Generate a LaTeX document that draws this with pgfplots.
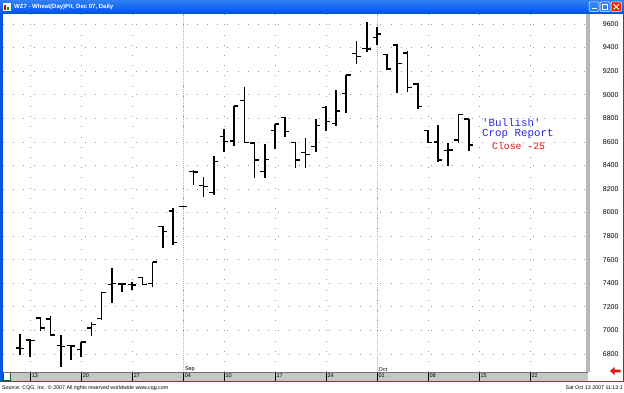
\documentclass[border=0pt]{standalone}
\usepackage{pgfplots}
\pgfplotsset{compat=1.18}
\usepackage{pgfplotstable}
\usepackage{fontspec}
\setmainfont{Liberation Sans}
\newfontfamily\monofont{Liberation Mono}

\definecolor{xpblue}{RGB}{0,84,227}
\definecolor{xpblueL}{RGB}{48,128,246}
\definecolor{annblue}{RGB}{40,40,225}
\definecolor{annred}{RGB}{230,20,20}
\definecolor{bandgray}{RGB}{198,198,198}

\pgfdeclareplotmark{openL}{\pgfpathmoveto{\pgfqpoint{-4.3pt}{0pt}}\pgfpathlineto{\pgfqpoint{0pt}{0pt}}\pgfusepathqstroke}
\pgfdeclareplotmark{closeR}{\pgfpathmoveto{\pgfqpoint{0pt}{0pt}}\pgfpathlineto{\pgfqpoint{4.3pt}{0pt}}\pgfusepathqstroke}

% i = trading day (0 = Aug 10 2007), open high low close
\pgfplotstableread{
i o h l c
0 6850 6970 6792 6845
1 6920 6927 6777 6915
2 7105 7111 6998 7020
3 7097 7122 6953 6960
4 6870 6961 6692 6865
5 6870 6876 6749 6868
6 6840 6904 6772 6900
7 7020 7074 6953 7050
8 7100 7329 7088 7320
9 7390 7527 7230 7400
10 7395 7400 7329 7395
11 7390 7413 7343 7385
12 7450 7456 7385 7390
13 7400 7583 7371 7580
14 7880 7889 7697 7838
15 8013 8036 7725 7748
16 8050 8055 8045 8050
17 8350 8361 8234 8345
18 8231 8299 8135 8220
19 8172 8480 8149 8432
20 8644 8707 8511 8602
21 8607 8904 8567 8904
22 8949 9068 8596 8596
23 8592 8601 8296 8446
24 8347 8582 8291 8452
25 8695 8752 8537 8752
26 8808 8811 8644 8686
27 8596 8601 8381 8446
28 8511 8630 8381 8494
29 8559 8792 8511 8737
30 8890 8904 8692 8771
31 8757 9040 8735 8862
32 9012 9167 8842 9167
33 9351 9458 9258 9323
34 9394 9614 9360 9388
35 9487 9571 9422 9515
36 9343 9343 9210 9218
37 9420 9430 9012 9267
38 9354 9368 9026 9060
39 9090 9097 8876 8898
40 8695 8701 8588 8593
41 8600 8743 8432 8445
42 8525 8588 8395 8530
43 8616 8834 8593 8834
44 8792 8792 8522 8573
}\ohlc

\begin{document}
\begin{tikzpicture}[x=1pt,y=1pt]
% page background
\fill[white] (0,0) rectangle (624,392);
% title bar
\shade[top color=xpblueL, bottom color=xpblue] (0,378.5) rectangle (624,392);
\node[anchor=west, text=white, inner sep=0, font=\bfseries\fontsize{6}{7}\selectfont] at (14,385) {WZ7 - Wheat(Day)Pit, Dec 07, Daily};
\fill[white] (3,381) rectangle (11,389);
\fill[red!85!black] (4,382) rectangle (6,387);
\fill[green!60!black] (7,382) rectangle (9,385);
\foreach \bx in {589,600}{
  \fill[xpblueL, draw=white, line width=0.5pt, rounded corners=1pt] (\bx,380.5) rectangle (\bx+10,390);
}
\fill[white] (591.5,382.5) rectangle (596.5,383.5);
\draw[white, line width=0.6pt] (602.5,382.5) rectangle (607.5,387.5);
\fill[red!75!orange, draw=white, line width=0.5pt, rounded corners=1pt] (611,380.5) rectangle (621.5,390);
\draw[white, line width=1pt] (613.5,382.5) -- (619,388) (613.5,388) -- (619,382.5);
% window frame
\fill[xpblue] (0,10) rectangle (3,378.5);
\fill[xpblue] (0,10) rectangle (624,11.3);
\fill[xpblue] (622.8,10) rectangle (624,378.5);
% x-axis band
\fill[bandgray] (3,11.3) rectangle (588,20);
\draw[black!75, fill=white, line width=0.5pt] (3.6,12.2) rectangle (9.8,19.4);

\begin{axis}[
  at={(3pt,20pt)}, anchor=south west,
  width=585pt, height=358pt, scale only axis,
  xmin=-1.67, xmax=55.7, ymin=6647, ymax=9685,
  axis x line*=bottom, axis y line*=right,
  x axis line style={-, black!55, line width=0.6pt},
  y axis line style={-, black!28, line width=3.2pt},
  xtick={1,6,11,16,20,25,30,35,40,45,50},
  xticklabels={13,20,27,04,10,17,24,01,08,15,22},
  ytick={6800,7000,7200,7400,7600,7800,8000,8200,8400,8600,8800,9000,9200,9400,9600},
  yticklabels={6800,7000,7200,7400,7600,7800,8000,8200,8400,8600,8800,9000,9200,9400,9600},
  minor ytick={6660,6680,...,9680},
  tick align=outside,
  major tick length=8.7pt,
  minor tick length=2.2pt,
  major x tick style={black, line width=0.7pt},
  major y tick style={draw=none},
  minor tick style={black!85, line width=0.45pt},
  xticklabel style={font=\fontsize{5.5}{6}\selectfont, anchor=north west, inner sep=0.5pt, xshift=1pt, yshift=8pt},
  yticklabel style={font=\fontsize{7}{8}\selectfont, anchor=west, inner sep=0pt, xshift=6pt},
  xmajorgrids, ymajorgrids,
  major grid style={black!40, line width=0.7pt, dash pattern=on 0.8pt off 9.4pt},
  clip=true,
]
\draw[black!30, line width=0.6pt, dash pattern=on 0.7pt off 1.3pt] (axis cs:16,6647) -- (axis cs:16,9685);
\draw[black!30, line width=0.6pt, dash pattern=on 0.7pt off 1.3pt] (axis cs:35,6647) -- (axis cs:35,9685);
% high-low ranges
\addplot[black, line width=1.7pt, quiver={u=0, v=\thisrow{l}-\thisrow{h}}] table[x=i, y=h] {\ohlc};
% open ticks (left)
\addplot[only marks, mark=openL, mark options={black, line width=1.5pt}] table[x=i, y=o] {\ohlc};
% close ticks (right)
\addplot[only marks, mark=closeR, mark options={black, line width=1.5pt}] table[x=i, y=c] {\ohlc};
\node[anchor=south west, inner sep=0.6pt, font=\fontsize{5.5}{6}\selectfont] at (axis cs:16.1,6647) {Sep};
\node[anchor=south west, inner sep=0.6pt, font=\fontsize{5.5}{6}\selectfont] at (axis cs:35.1,6647) {Oct};
\end{axis}

% annotation
\node[anchor=base west, inner sep=0, text=annblue, font=\monofont\fontsize{10.8}{11}\selectfont] at (482,265.5) {'Bullish'};
\node[anchor=base west, inner sep=0, text=annblue, font=\monofont\fontsize{10.8}{11}\selectfont] at (482,256) {Crop Report};
\node[anchor=base west, inner sep=0, text=annred, font=\monofont\fontsize{9.8}{10}\selectfont] at (492,242.5) {Close -25};

% red arrow bottom right
\fill[annred] (610,21) -- (614.5,25) -- (614.5,22.3) -- (620.5,22.3) -- (620.5,19.7) -- (614.5,19.7) -- (614.5,17) -- cycle;

% footer
\node[anchor=base west, inner sep=0, font=\fontsize{5.3}{6}\selectfont] at (2,3) {Source: CQG, Inc. © 2007 All rights reserved worldwide www.cqg.com};
\node[anchor=base east, inner sep=0, font=\fontsize{5.3}{6}\selectfont] at (623,3) {Sat Oct 13 2007 11:13:1};
\end{tikzpicture}
\end{document}
